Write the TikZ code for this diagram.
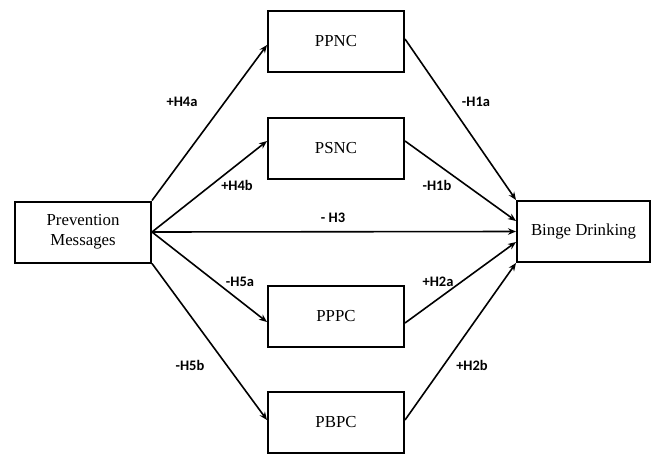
\documentclass[tikz,border=0pt]{standalone}
\usepackage{fontspec}
\setmainfont{Liberation Serif}
\newfontfamily\lblfont{Carlito}
\usetikzlibrary{arrows.meta,calc}
\tikzset{
  boxnode/.style={draw, line width=2pt, minimum width=136pt, minimum height=61pt, inner sep=0pt, align=center, font=\fontsize{16.8}{20}\selectfont},
  conn/.style={line width=1.6pt, -{Stealth[length=8pt,width=6.5pt]}},
  lbl/.style={font=\lblfont\bfseries\fontsize{14.5}{16}\selectfont, inner sep=0pt}
}
\begin{document}
\begin{tikzpicture}[x=1pt,y=-1pt]
\useasboundingbox (0,0) rectangle (652,455);
\node[boxnode] (PM) at (83,232) {Prevention\\Messages};
\node[boxnode] (PPNC) at (336,41) {PPNC};
\node[boxnode] (PSNC) at (336,148) {PSNC};
\node[boxnode] (PPPC) at (336,316.5) {PPPC};
\node[boxnode] (PBPC) at (336,422.5) {PBPC};
\node[boxnode, minimum width=133pt] (BD) at (583.5,231.5) {Binge Drinking};

\draw[conn] (PM.north east) -- ($(PPNC.west)+(0,4)$);
\draw[conn] (PM.east) -- ($(PSNC.west)+(0,-7)$);
\draw[conn] (PM.east) -- (BD.west);
\draw[conn] (PM.east) -- ($(PPPC.west)+(0,5.5)$);
\draw[conn] (PM.south east) -- ($(PBPC.west)+(0,-2.5)$);

\draw[conn] ($(PPNC.east)+(0,-2)$) -- (BD.north west);
\draw[conn] ($(PSNC.east)+(0,-7)$) -- ($(BD.west)+(0,-10.5)$);
\draw[conn] ($(PPPC.east)+(0,6.5)$) -- ($(BD.west)+(0,10.5)$);
\draw[conn] ($(PBPC.east)+(0,-2.5)$) -- (BD.south west);

\node[lbl] (l4a) at (182,102) {+H4a};
\node[lbl] (l4b) at (237,185) {+H4b};
\node[lbl] (l3) at (333,218) {- H3};
\node[lbl] (l5a) at (240,282) {-H5a};
\node[lbl] (l5b) at (190,365) {-H5b};
\node[lbl] (l1a) at (476,102) {-H1a};
\node[lbl] (l1b) at (437,185) {-H1b};
\node[lbl] (l2a) at (438,282) {+H2a};
\node[lbl] (l2b) at (472,365) {+H2b};
\end{tikzpicture}
\end{document}
